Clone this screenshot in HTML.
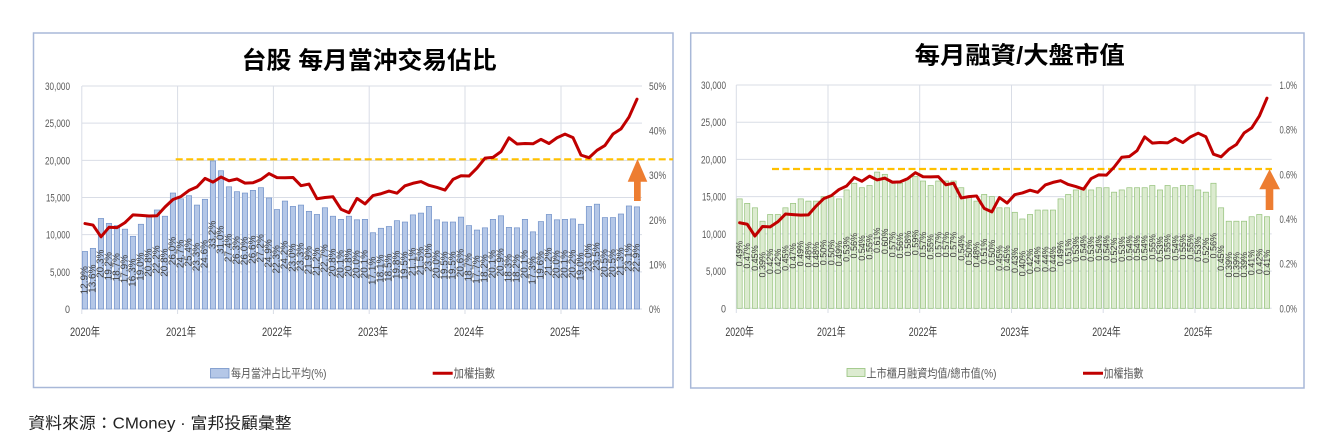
<!DOCTYPE html>
<html><head><meta charset="utf-8">
<style>
html,body{margin:0;padding:0;background:#fff;}
svg{display:block;}
text{font-family:"Liberation Sans","Noto Sans CJK TC",sans-serif;}
.lb text{font-size:10px;fill:#404040;text-anchor:middle;dominant-baseline:central;}
.rb text{font-size:9px;fill:#404040;text-anchor:middle;dominant-baseline:central;}
.ax{font-size:11px;fill:#595959;}
.xl{font-size:12px;fill:#404040;text-anchor:middle;}
.lg{font-size:12px;fill:#595959;}
</style></head>
<body>
<svg width="1337" height="438" viewBox="0 0 1337 438" xmlns="http://www.w3.org/2000/svg">
<rect x="0" y="0" width="1337" height="438" fill="#fff"/>
<!-- panels -->
<rect x="33.5" y="33" width="639.5" height="354.5" fill="#fff" stroke="#a8b8d8" stroke-width="1.5"/>
<rect x="690.7" y="33" width="613.3" height="355" fill="#fff" stroke="#a8b8d8" stroke-width="1.5"/>

<!-- titles -->
<text x="241.7" y="68.3" font-size="24" font-weight="bold" fill="#000" textLength="255" lengthAdjust="spacingAndGlyphs">台股 每月當沖交易佔比</text>
<text x="914.7" y="63.6" font-size="24" font-weight="bold" fill="#000" textLength="210" lengthAdjust="spacingAndGlyphs">每月融資/大盤市值</text>

<!-- LEFT grid -->
<g stroke="#d9dde6" stroke-width="1">
<line x1="82" y1="86" x2="642" y2="86"/>
<line x1="82" y1="123.17" x2="642" y2="123.17"/>
<line x1="82" y1="160.33" x2="642" y2="160.33"/>
<line x1="82" y1="197.5" x2="642" y2="197.5"/>
<line x1="82" y1="234.67" x2="642" y2="234.67"/>
<line x1="82" y1="271.83" x2="642" y2="271.83"/>
<line x1="82" y1="309" x2="642" y2="309"/>
<line x1="81.8" y1="86" x2="81.8" y2="314"/>
<line x1="177.6" y1="86" x2="177.6" y2="314"/>
<line x1="273.4" y1="86" x2="273.4" y2="314"/>
<line x1="369.2" y1="86" x2="369.2" y2="314"/>
<line x1="465" y1="86" x2="465" y2="314"/>
<line x1="561" y1="86" x2="561" y2="314"/>
</g>
<!-- LEFT axis labels -->
<g class="ax" text-anchor="end">
<text x="70" y="90" textLength="25" lengthAdjust="spacingAndGlyphs">30,000</text>
<text x="70" y="127.17" textLength="25" lengthAdjust="spacingAndGlyphs">25,000</text>
<text x="70" y="164.33" textLength="25" lengthAdjust="spacingAndGlyphs">20,000</text>
<text x="70" y="201.5" textLength="24" lengthAdjust="spacingAndGlyphs">15,000</text>
<text x="70" y="238.67" textLength="24" lengthAdjust="spacingAndGlyphs">10,000</text>
<text x="70" y="275.83" textLength="20" lengthAdjust="spacingAndGlyphs">5,000</text>
<text x="70" y="313" textLength="5" lengthAdjust="spacingAndGlyphs">0</text>
</g>
<g class="ax">
<text x="649" y="90" textLength="17" lengthAdjust="spacingAndGlyphs">50%</text>
<text x="649" y="134.6" textLength="17" lengthAdjust="spacingAndGlyphs">40%</text>
<text x="649" y="179.2" textLength="17" lengthAdjust="spacingAndGlyphs">30%</text>
<text x="649" y="223.8" textLength="17" lengthAdjust="spacingAndGlyphs">20%</text>
<text x="649" y="268.4" textLength="17" lengthAdjust="spacingAndGlyphs">10%</text>
<text x="649" y="313" textLength="11" lengthAdjust="spacingAndGlyphs">0%</text>
</g>
<g class="xl">
<text x="85" y="336" textLength="30" lengthAdjust="spacingAndGlyphs">2020年</text>
<text x="181" y="336" textLength="30" lengthAdjust="spacingAndGlyphs">2021年</text>
<text x="277" y="336" textLength="30" lengthAdjust="spacingAndGlyphs">2022年</text>
<text x="373" y="336" textLength="30" lengthAdjust="spacingAndGlyphs">2023年</text>
<text x="469" y="336" textLength="30" lengthAdjust="spacingAndGlyphs">2024年</text>
<text x="565" y="336" textLength="30" lengthAdjust="spacingAndGlyphs">2025年</text>
</g>

<!-- LEFT bars -->
<g fill="#b4c7e7" stroke="#7393c9" stroke-width="0.7">
<rect x="82.3" y="251.47" width="5.3" height="57.53"/>
<rect x="90.3" y="248.34" width="5.3" height="60.66"/>
<rect x="98.3" y="218.46" width="5.3" height="90.54"/>
<rect x="106.3" y="223.37" width="5.3" height="85.63"/>
<rect x="114.3" y="225.6" width="5.3" height="83.4"/>
<rect x="122.3" y="229.17" width="5.3" height="79.83"/>
<rect x="130.3" y="236.3" width="5.3" height="72.7"/>
<rect x="138.3" y="224.26" width="5.3" height="84.74"/>
<rect x="146.3" y="216.23" width="5.3" height="92.77"/>
<rect x="154.3" y="209.99" width="5.3" height="99.01"/>
<rect x="162.3" y="216.23" width="5.3" height="92.77"/>
<rect x="170.3" y="193.04" width="5.3" height="115.96"/>
<rect x="178.3" y="198.84" width="5.3" height="110.16"/>
<rect x="186.3" y="195.72" width="5.3" height="113.28"/>
<rect x="194.3" y="205.08" width="5.3" height="103.92"/>
<rect x="202.3" y="199.28" width="5.3" height="109.72"/>
<rect x="210.3" y="160.93" width="5.3" height="148.07"/>
<rect x="218.3" y="170.74" width="5.3" height="138.26"/>
<rect x="226.3" y="186.8" width="5.3" height="122.2"/>
<rect x="234.3" y="191.7" width="5.3" height="117.3"/>
<rect x="242.3" y="193.04" width="5.3" height="115.96"/>
<rect x="250.3" y="190.36" width="5.3" height="118.64"/>
<rect x="258.3" y="187.69" width="5.3" height="121.31"/>
<rect x="266.3" y="197.95" width="5.3" height="111.05"/>
<rect x="274.3" y="209.54" width="5.3" height="99.46"/>
<rect x="282.3" y="201.07" width="5.3" height="107.93"/>
<rect x="290.3" y="206.42" width="5.3" height="102.58"/>
<rect x="298.3" y="205.08" width="5.3" height="103.92"/>
<rect x="306.3" y="211.33" width="5.3" height="97.67"/>
<rect x="314.3" y="214.45" width="5.3" height="94.55"/>
<rect x="322.3" y="207.76" width="5.3" height="101.24"/>
<rect x="330.3" y="216.23" width="5.3" height="92.77"/>
<rect x="338.3" y="219.35" width="5.3" height="89.65"/>
<rect x="346.3" y="216.23" width="5.3" height="92.77"/>
<rect x="354.3" y="219.8" width="5.3" height="89.2"/>
<rect x="362.3" y="219.35" width="5.3" height="89.65"/>
<rect x="370.3" y="232.73" width="5.3" height="76.27"/>
<rect x="378.3" y="228.27" width="5.3" height="80.73"/>
<rect x="386.3" y="226.49" width="5.3" height="82.51"/>
<rect x="394.3" y="220.69" width="5.3" height="88.31"/>
<rect x="402.3" y="222.03" width="5.3" height="86.97"/>
<rect x="410.3" y="214.89" width="5.3" height="94.11"/>
<rect x="418.3" y="213.11" width="5.3" height="95.89"/>
<rect x="426.3" y="206.42" width="5.3" height="102.58"/>
<rect x="434.3" y="219.8" width="5.3" height="89.2"/>
<rect x="442.3" y="222.03" width="5.3" height="86.97"/>
<rect x="450.3" y="222.03" width="5.3" height="86.97"/>
<rect x="458.3" y="217.12" width="5.3" height="91.88"/>
<rect x="466.3" y="225.6" width="5.3" height="83.4"/>
<rect x="474.3" y="230.06" width="5.3" height="78.94"/>
<rect x="482.3" y="227.83" width="5.3" height="81.17"/>
<rect x="490.3" y="219.35" width="5.3" height="89.65"/>
<rect x="498.3" y="215.79" width="5.3" height="93.21"/>
<rect x="506.3" y="227.38" width="5.3" height="81.62"/>
<rect x="514.3" y="227.83" width="5.3" height="81.17"/>
<rect x="522.3" y="219.35" width="5.3" height="89.65"/>
<rect x="530.3" y="231.84" width="5.3" height="77.16"/>
<rect x="538.3" y="221.58" width="5.3" height="87.42"/>
<rect x="546.3" y="214.45" width="5.3" height="94.55"/>
<rect x="554.3" y="219.8" width="5.3" height="89.2"/>
<rect x="562.3" y="219.35" width="5.3" height="89.65"/>
<rect x="570.3" y="218.91" width="5.3" height="90.09"/>
<rect x="578.3" y="224.26" width="5.3" height="84.74"/>
<rect x="586.3" y="206.42" width="5.3" height="102.58"/>
<rect x="594.3" y="204.19" width="5.3" height="104.81"/>
<rect x="602.3" y="217.57" width="5.3" height="91.43"/>
<rect x="610.3" y="217.57" width="5.3" height="91.43"/>
<rect x="618.3" y="214" width="5.3" height="95"/>
<rect x="626.3" y="205.97" width="5.3" height="103.03"/>
<rect x="634.3" y="206.87" width="5.3" height="102.13"/>
</g>
<!-- LEFT bar labels -->
<g class="lb">
<text transform="translate(85 280.23) rotate(-90)">12.9%</text>
<text transform="translate(93 278.67) rotate(-90)">13.6%</text>
<text transform="translate(101 263.73) rotate(-90)">20.3%</text>
<text transform="translate(109 266.18) rotate(-90)">19.2%</text>
<text transform="translate(117 267.3) rotate(-90)">18.7%</text>
<text transform="translate(125 269.08) rotate(-90)">17.9%</text>
<text transform="translate(133 272.65) rotate(-90)">16.3%</text>
<text transform="translate(141 266.63) rotate(-90)">19.0%</text>
<text transform="translate(149 262.62) rotate(-90)">20.8%</text>
<text transform="translate(157 259.49) rotate(-90)">22.2%</text>
<text transform="translate(165 262.62) rotate(-90)">20.8%</text>
<text transform="translate(173 251.02) rotate(-90)">26.0%</text>
<text transform="translate(181 253.92) rotate(-90)">24.7%</text>
<text transform="translate(189 252.36) rotate(-90)">25.4%</text>
<text transform="translate(197 257.04) rotate(-90)">23.3%</text>
<text transform="translate(205 254.14) rotate(-90)">24.6%</text>
<text transform="translate(213 234.96) rotate(-90)">33.2%</text>
<text transform="translate(221 239.87) rotate(-90)">31.0%</text>
<text transform="translate(229 247.9) rotate(-90)">27.4%</text>
<text transform="translate(237 250.35) rotate(-90)">26.3%</text>
<text transform="translate(245 251.02) rotate(-90)">26.0%</text>
<text transform="translate(253 249.68) rotate(-90)">26.6%</text>
<text transform="translate(261 248.34) rotate(-90)">27.2%</text>
<text transform="translate(269 253.47) rotate(-90)">24.9%</text>
<text transform="translate(277 259.27) rotate(-90)">22.3%</text>
<text transform="translate(285 255.03) rotate(-90)">24.2%</text>
<text transform="translate(293 257.71) rotate(-90)">23.0%</text>
<text transform="translate(301 257.04) rotate(-90)">23.3%</text>
<text transform="translate(309 260.16) rotate(-90)">21.9%</text>
<text transform="translate(317 261.72) rotate(-90)">21.2%</text>
<text transform="translate(325 258.38) rotate(-90)">22.7%</text>
<text transform="translate(333 262.62) rotate(-90)">20.8%</text>
<text transform="translate(341 264.18) rotate(-90)">20.1%</text>
<text transform="translate(349 262.62) rotate(-90)">20.8%</text>
<text transform="translate(357 264.4) rotate(-90)">20.0%</text>
<text transform="translate(365 264.18) rotate(-90)">20.1%</text>
<text transform="translate(373 270.87) rotate(-90)">17.1%</text>
<text transform="translate(381 268.64) rotate(-90)">18.1%</text>
<text transform="translate(389 267.75) rotate(-90)">18.5%</text>
<text transform="translate(397 264.85) rotate(-90)">19.8%</text>
<text transform="translate(405 265.52) rotate(-90)">19.5%</text>
<text transform="translate(413 261.95) rotate(-90)">21.1%</text>
<text transform="translate(421 261.06) rotate(-90)">21.5%</text>
<text transform="translate(429 257.71) rotate(-90)">23.0%</text>
<text transform="translate(437 264.4) rotate(-90)">20.0%</text>
<text transform="translate(445 265.52) rotate(-90)">19.5%</text>
<text transform="translate(453 265.52) rotate(-90)">19.5%</text>
<text transform="translate(461 263.06) rotate(-90)">20.6%</text>
<text transform="translate(469 267.3) rotate(-90)">18.7%</text>
<text transform="translate(477 269.53) rotate(-90)">17.7%</text>
<text transform="translate(485 268.41) rotate(-90)">18.2%</text>
<text transform="translate(493 264.18) rotate(-90)">20.1%</text>
<text transform="translate(501 262.39) rotate(-90)">20.9%</text>
<text transform="translate(509 268.19) rotate(-90)">18.3%</text>
<text transform="translate(517 268.41) rotate(-90)">18.2%</text>
<text transform="translate(525 264.18) rotate(-90)">20.1%</text>
<text transform="translate(533 270.42) rotate(-90)">17.3%</text>
<text transform="translate(541 265.29) rotate(-90)">19.6%</text>
<text transform="translate(549 261.72) rotate(-90)">21.2%</text>
<text transform="translate(557 264.4) rotate(-90)">20.0%</text>
<text transform="translate(565 264.18) rotate(-90)">20.1%</text>
<text transform="translate(573 263.95) rotate(-90)">20.2%</text>
<text transform="translate(581 266.63) rotate(-90)">19.0%</text>
<text transform="translate(589 257.71) rotate(-90)">23.0%</text>
<text transform="translate(597 256.6) rotate(-90)">23.5%</text>
<text transform="translate(605 263.28) rotate(-90)">20.5%</text>
<text transform="translate(613 263.28) rotate(-90)">20.5%</text>
<text transform="translate(621 261.5) rotate(-90)">21.3%</text>
<text transform="translate(629 257.49) rotate(-90)">23.1%</text>
<text transform="translate(637 257.93) rotate(-90)">22.9%</text>
</g>
<!-- LEFT dashed line -->
<line x1="175.7" y1="159.3" x2="673" y2="159.3" stroke="#ffc000" stroke-width="2.2" stroke-dasharray="7 3.5"/>
<!-- LEFT index line -->
<polyline fill="none" stroke="#c00000" stroke-width="3" stroke-linejoin="round" stroke-linecap="round" points="85,223.55 93,225.06 101,236.84 109,227.29 117,227.66 125,222.62 133,214.86 141,215.4 149,215.96 157,215.74 165,207 173,199.49 181,196.48 189,190.42 197,186.86 205,178.42 213,182.13 221,177.02 229,180.8 237,178.99 245,183.12 253,182.73 261,179.45 269,173.57 277,177.62 285,177.79 293,177.48 301,185.67 309,184.07 317,198.79 325,197.5 333,196.79 341,209.21 349,212.74 357,198.39 365,203.91 373,195.53 381,193.75 389,191.05 397,193.2 405,185.76 413,183.26 421,181.55 429,185.35 437,187.44 445,190.06 453,179.42 461,175.71 469,176.02 477,168.02 485,158.15 493,157.38 501,151.6 509,137.79 517,143.99 525,143.47 533,143.79 541,139.37 549,143.51 557,137.77 565,134.12 573,137.64 581,155.13 589,157.73 597,150.31 605,145.42 613,133.97 621,128.87 629,117.06 637,99.14"/>
<!-- LEFT arrow -->
<polygon fill="#ed7d31" points="637.5,159 647.3,181.7 640.7,181.7 640.7,201 634,201 634,181.7 627.7,181.7"/>
<!-- LEFT legend -->
<rect x="210.5" y="368.5" width="18.5" height="9.5" fill="#b4c7e7" stroke="#7393c9" stroke-width="0.8"/>
<text class="lg" x="231" y="377.5" textLength="95.5" lengthAdjust="spacingAndGlyphs">每月當沖占比平均(%)</text>
<line x1="432.7" y1="373.3" x2="452.7" y2="373.3" stroke="#c00000" stroke-width="3"/>
<text class="lg" x="453.5" y="377.5" textLength="41.5" lengthAdjust="spacingAndGlyphs">加權指數</text>

<!-- RIGHT grid -->
<g stroke="#d9dde6" stroke-width="1">
<line x1="736.3" y1="85" x2="1271.7" y2="85"/>
<line x1="736.3" y1="122.22" x2="1271.7" y2="122.22"/>
<line x1="736.3" y1="159.43" x2="1271.7" y2="159.43"/>
<line x1="736.3" y1="196.65" x2="1271.7" y2="196.65"/>
<line x1="736.3" y1="233.87" x2="1271.7" y2="233.87"/>
<line x1="736.3" y1="271.08" x2="1271.7" y2="271.08"/>
<line x1="736.3" y1="308.3" x2="1271.7" y2="308.3"/>
<line x1="736.3" y1="85" x2="736.3" y2="313"/>
<line x1="828" y1="85" x2="828" y2="313"/>
<line x1="919.7" y1="85" x2="919.7" y2="313"/>
<line x1="1011.5" y1="85" x2="1011.5" y2="313"/>
<line x1="1103.2" y1="85" x2="1103.2" y2="313"/>
<line x1="1195" y1="85" x2="1195" y2="313"/>
</g>
<g class="ax" text-anchor="end">
<text x="726" y="89" textLength="25" lengthAdjust="spacingAndGlyphs">30,000</text>
<text x="726" y="126.22" textLength="25" lengthAdjust="spacingAndGlyphs">25,000</text>
<text x="726" y="163.43" textLength="25" lengthAdjust="spacingAndGlyphs">20,000</text>
<text x="726" y="200.65" textLength="24" lengthAdjust="spacingAndGlyphs">15,000</text>
<text x="726" y="237.87" textLength="24" lengthAdjust="spacingAndGlyphs">10,000</text>
<text x="726" y="275.08" textLength="20" lengthAdjust="spacingAndGlyphs">5,000</text>
<text x="726" y="312.3" textLength="5" lengthAdjust="spacingAndGlyphs">0</text>
</g>
<g class="ax">
<text x="1279.5" y="89" textLength="17.5" lengthAdjust="spacingAndGlyphs">1.0%</text>
<text x="1279.5" y="133.66" textLength="17.5" lengthAdjust="spacingAndGlyphs">0.8%</text>
<text x="1279.5" y="178.32" textLength="17.5" lengthAdjust="spacingAndGlyphs">0.6%</text>
<text x="1279.5" y="222.98" textLength="17.5" lengthAdjust="spacingAndGlyphs">0.4%</text>
<text x="1279.5" y="267.64" textLength="17.5" lengthAdjust="spacingAndGlyphs">0.2%</text>
<text x="1279.5" y="312.3" textLength="17.5" lengthAdjust="spacingAndGlyphs">0.0%</text>
</g>
<g class="xl">
<text x="739.6" y="336" textLength="28.5" lengthAdjust="spacingAndGlyphs">2020年</text>
<text x="831.3" y="336" textLength="28.5" lengthAdjust="spacingAndGlyphs">2021年</text>
<text x="923" y="336" textLength="28.5" lengthAdjust="spacingAndGlyphs">2022年</text>
<text x="1014.8" y="336" textLength="28.5" lengthAdjust="spacingAndGlyphs">2023年</text>
<text x="1106.5" y="336" textLength="28.5" lengthAdjust="spacingAndGlyphs">2024年</text>
<text x="1198.2" y="336" textLength="28.5" lengthAdjust="spacingAndGlyphs">2025年</text>
</g>

<!-- RIGHT bars -->
<g fill="#dcebd0" stroke="#94c27a" stroke-width="0.7">
<rect x="737" y="198.88" width="5.2" height="109.42"/>
<rect x="744.64" y="203.35" width="5.2" height="104.95"/>
<rect x="752.29" y="207.81" width="5.2" height="100.49"/>
<rect x="759.93" y="221.21" width="5.2" height="87.09"/>
<rect x="767.57" y="214.51" width="5.2" height="93.79"/>
<rect x="775.22" y="214.51" width="5.2" height="93.79"/>
<rect x="782.86" y="207.81" width="5.2" height="100.49"/>
<rect x="790.5" y="203.35" width="5.2" height="104.95"/>
<rect x="798.14" y="198.88" width="5.2" height="109.42"/>
<rect x="805.79" y="201.12" width="5.2" height="107.18"/>
<rect x="813.43" y="201.12" width="5.2" height="107.18"/>
<rect x="821.07" y="196.65" width="5.2" height="111.65"/>
<rect x="828.72" y="196.65" width="5.2" height="111.65"/>
<rect x="836.36" y="198.88" width="5.2" height="109.42"/>
<rect x="844" y="189.95" width="5.2" height="118.35"/>
<rect x="851.64" y="183.25" width="5.2" height="125.05"/>
<rect x="859.29" y="187.72" width="5.2" height="120.58"/>
<rect x="866.93" y="185.48" width="5.2" height="122.82"/>
<rect x="874.57" y="172.09" width="5.2" height="136.21"/>
<rect x="882.22" y="174.32" width="5.2" height="133.98"/>
<rect x="889.86" y="181.02" width="5.2" height="127.28"/>
<rect x="897.5" y="183.25" width="5.2" height="125.05"/>
<rect x="905.15" y="178.79" width="5.2" height="129.51"/>
<rect x="912.79" y="176.55" width="5.2" height="131.75"/>
<rect x="920.43" y="181.02" width="5.2" height="127.28"/>
<rect x="928.08" y="185.48" width="5.2" height="122.82"/>
<rect x="935.72" y="181.02" width="5.2" height="127.28"/>
<rect x="943.36" y="181.02" width="5.2" height="127.28"/>
<rect x="951" y="181.02" width="5.2" height="127.28"/>
<rect x="958.65" y="187.72" width="5.2" height="120.58"/>
<rect x="966.29" y="196.65" width="5.2" height="111.65"/>
<rect x="973.93" y="201.12" width="5.2" height="107.18"/>
<rect x="981.58" y="194.42" width="5.2" height="113.88"/>
<rect x="989.22" y="196.65" width="5.2" height="111.65"/>
<rect x="996.86" y="207.81" width="5.2" height="100.49"/>
<rect x="1004.51" y="207.81" width="5.2" height="100.49"/>
<rect x="1012.15" y="212.28" width="5.2" height="96.02"/>
<rect x="1019.79" y="218.98" width="5.2" height="89.32"/>
<rect x="1027.43" y="214.51" width="5.2" height="93.79"/>
<rect x="1035.08" y="210.05" width="5.2" height="98.25"/>
<rect x="1042.72" y="210.05" width="5.2" height="98.25"/>
<rect x="1050.36" y="210.05" width="5.2" height="98.25"/>
<rect x="1058.01" y="198.88" width="5.2" height="109.42"/>
<rect x="1065.65" y="194.42" width="5.2" height="113.88"/>
<rect x="1073.29" y="189.95" width="5.2" height="118.35"/>
<rect x="1080.94" y="187.72" width="5.2" height="120.58"/>
<rect x="1088.58" y="189.95" width="5.2" height="118.35"/>
<rect x="1096.22" y="187.72" width="5.2" height="120.58"/>
<rect x="1103.86" y="187.72" width="5.2" height="120.58"/>
<rect x="1111.51" y="192.18" width="5.2" height="116.12"/>
<rect x="1119.15" y="189.95" width="5.2" height="118.35"/>
<rect x="1126.79" y="187.72" width="5.2" height="120.58"/>
<rect x="1134.44" y="187.72" width="5.2" height="120.58"/>
<rect x="1142.08" y="187.72" width="5.2" height="120.58"/>
<rect x="1149.72" y="185.48" width="5.2" height="122.82"/>
<rect x="1157.37" y="189.95" width="5.2" height="118.35"/>
<rect x="1165.01" y="185.48" width="5.2" height="122.82"/>
<rect x="1172.65" y="187.72" width="5.2" height="120.58"/>
<rect x="1180.29" y="185.48" width="5.2" height="122.82"/>
<rect x="1187.94" y="185.48" width="5.2" height="122.82"/>
<rect x="1195.58" y="189.95" width="5.2" height="118.35"/>
<rect x="1203.22" y="192.18" width="5.2" height="116.12"/>
<rect x="1210.87" y="183.25" width="5.2" height="125.05"/>
<rect x="1218.51" y="207.81" width="5.2" height="100.49"/>
<rect x="1226.15" y="221.21" width="5.2" height="87.09"/>
<rect x="1233.8" y="221.21" width="5.2" height="87.09"/>
<rect x="1241.44" y="221.21" width="5.2" height="87.09"/>
<rect x="1249.08" y="216.75" width="5.2" height="91.55"/>
<rect x="1256.72" y="214.51" width="5.2" height="93.79"/>
<rect x="1264.37" y="216.75" width="5.2" height="91.55"/>
</g>
<!-- RIGHT bar labels -->
<g class="rb">
<text transform="translate(739.6 253.59) rotate(-90)">0.49%</text>
<text transform="translate(747.24 255.83) rotate(-90)">0.47%</text>
<text transform="translate(754.89 258.06) rotate(-90)">0.45%</text>
<text transform="translate(762.53 264.76) rotate(-90)">0.39%</text>
<text transform="translate(770.17 261.41) rotate(-90)">0.42%</text>
<text transform="translate(777.82 261.41) rotate(-90)">0.42%</text>
<text transform="translate(785.46 258.06) rotate(-90)">0.45%</text>
<text transform="translate(793.1 255.83) rotate(-90)">0.47%</text>
<text transform="translate(800.74 253.59) rotate(-90)">0.49%</text>
<text transform="translate(808.39 254.71) rotate(-90)">0.48%</text>
<text transform="translate(816.03 254.71) rotate(-90)">0.48%</text>
<text transform="translate(823.67 252.48) rotate(-90)">0.50%</text>
<text transform="translate(831.32 252.48) rotate(-90)">0.50%</text>
<text transform="translate(838.96 253.59) rotate(-90)">0.49%</text>
<text transform="translate(846.6 249.13) rotate(-90)">0.53%</text>
<text transform="translate(854.24 245.78) rotate(-90)">0.56%</text>
<text transform="translate(861.89 248.01) rotate(-90)">0.54%</text>
<text transform="translate(869.53 246.89) rotate(-90)">0.55%</text>
<text transform="translate(877.17 240.2) rotate(-90)">0.61%</text>
<text transform="translate(884.82 241.31) rotate(-90)">0.60%</text>
<text transform="translate(892.46 244.66) rotate(-90)">0.57%</text>
<text transform="translate(900.1 245.78) rotate(-90)">0.56%</text>
<text transform="translate(907.75 243.55) rotate(-90)">0.58%</text>
<text transform="translate(915.39 242.43) rotate(-90)">0.59%</text>
<text transform="translate(923.03 244.66) rotate(-90)">0.57%</text>
<text transform="translate(930.68 246.89) rotate(-90)">0.55%</text>
<text transform="translate(938.32 244.66) rotate(-90)">0.57%</text>
<text transform="translate(945.96 244.66) rotate(-90)">0.57%</text>
<text transform="translate(953.6 244.66) rotate(-90)">0.57%</text>
<text transform="translate(961.25 248.01) rotate(-90)">0.54%</text>
<text transform="translate(968.89 252.48) rotate(-90)">0.50%</text>
<text transform="translate(976.53 254.71) rotate(-90)">0.48%</text>
<text transform="translate(984.18 251.36) rotate(-90)">0.51%</text>
<text transform="translate(991.82 252.48) rotate(-90)">0.50%</text>
<text transform="translate(999.46 258.06) rotate(-90)">0.45%</text>
<text transform="translate(1007.11 258.06) rotate(-90)">0.45%</text>
<text transform="translate(1014.75 260.29) rotate(-90)">0.43%</text>
<text transform="translate(1022.39 263.64) rotate(-90)">0.40%</text>
<text transform="translate(1030.03 261.41) rotate(-90)">0.42%</text>
<text transform="translate(1037.68 259.18) rotate(-90)">0.44%</text>
<text transform="translate(1045.32 259.18) rotate(-90)">0.44%</text>
<text transform="translate(1052.96 259.18) rotate(-90)">0.44%</text>
<text transform="translate(1060.61 253.59) rotate(-90)">0.49%</text>
<text transform="translate(1068.25 251.36) rotate(-90)">0.51%</text>
<text transform="translate(1075.89 249.13) rotate(-90)">0.53%</text>
<text transform="translate(1083.54 248.01) rotate(-90)">0.54%</text>
<text transform="translate(1091.18 249.13) rotate(-90)">0.53%</text>
<text transform="translate(1098.82 248.01) rotate(-90)">0.54%</text>
<text transform="translate(1106.46 248.01) rotate(-90)">0.54%</text>
<text transform="translate(1114.11 250.24) rotate(-90)">0.52%</text>
<text transform="translate(1121.75 249.13) rotate(-90)">0.53%</text>
<text transform="translate(1129.39 248.01) rotate(-90)">0.54%</text>
<text transform="translate(1137.04 248.01) rotate(-90)">0.54%</text>
<text transform="translate(1144.68 248.01) rotate(-90)">0.54%</text>
<text transform="translate(1152.32 246.89) rotate(-90)">0.55%</text>
<text transform="translate(1159.97 249.13) rotate(-90)">0.53%</text>
<text transform="translate(1167.61 246.89) rotate(-90)">0.55%</text>
<text transform="translate(1175.25 248.01) rotate(-90)">0.54%</text>
<text transform="translate(1182.89 246.89) rotate(-90)">0.55%</text>
<text transform="translate(1190.54 246.89) rotate(-90)">0.55%</text>
<text transform="translate(1198.18 249.13) rotate(-90)">0.53%</text>
<text transform="translate(1205.82 250.24) rotate(-90)">0.52%</text>
<text transform="translate(1213.47 245.78) rotate(-90)">0.56%</text>
<text transform="translate(1221.11 258.06) rotate(-90)">0.45%</text>
<text transform="translate(1228.75 264.76) rotate(-90)">0.39%</text>
<text transform="translate(1236.4 264.76) rotate(-90)">0.39%</text>
<text transform="translate(1244.04 264.76) rotate(-90)">0.39%</text>
<text transform="translate(1251.68 262.53) rotate(-90)">0.41%</text>
<text transform="translate(1259.32 261.41) rotate(-90)">0.42%</text>
<text transform="translate(1266.97 262.53) rotate(-90)">0.41%</text>
</g>
<!-- RIGHT dashed line -->
<line x1="772" y1="169" x2="1272" y2="169" stroke="#ffc000" stroke-width="2.2" stroke-dasharray="7 3.5"/>
<!-- RIGHT index line -->
<polyline fill="none" stroke="#c00000" stroke-width="3" stroke-linejoin="round" stroke-linecap="round" points="739.6,222.74 747.24,224.25 754.89,236.04 762.53,226.48 770.17,226.86 777.82,221.8 785.46,214.03 793.1,214.57 800.74,215.14 808.39,214.92 816.03,206.16 823.67,198.65 831.32,195.62 838.96,189.56 846.6,186 854.24,177.54 861.89,181.26 869.53,176.14 877.17,179.93 884.82,178.12 892.46,182.25 900.1,181.86 907.75,178.58 915.39,172.69 923.03,176.75 930.68,176.91 938.32,176.61 945.96,184.8 953.6,183.2 961.25,197.95 968.89,196.65 976.53,195.94 984.18,208.37 991.82,211.91 999.46,197.54 1007.11,203.07 1014.75,194.68 1022.39,192.9 1030.03,190.19 1037.68,192.34 1045.32,184.9 1052.96,182.39 1060.61,180.68 1068.25,184.48 1075.89,186.58 1083.54,189.2 1091.18,178.54 1098.82,174.83 1106.46,175.14 1114.11,167.13 1121.75,157.25 1129.39,156.48 1137.04,150.69 1144.68,136.86 1152.32,143.07 1159.97,142.55 1167.61,142.87 1175.25,138.44 1182.89,142.59 1190.54,136.84 1198.18,133.19 1205.82,136.71 1213.47,154.22 1221.11,156.83 1228.75,149.4 1236.4,144.5 1244.04,133.04 1251.68,127.93 1259.32,116.1 1266.97,98.15"/>
<!-- RIGHT arrow -->
<polygon fill="#ed7d31" points="1269.6,169.3 1280,189.3 1273.3,189.3 1273.3,210 1265.7,210 1265.7,189.3 1259.3,189.3"/>
<!-- RIGHT legend -->
<rect x="847" y="368.5" width="18" height="8" fill="#dcebd0" stroke="#94c27a" stroke-width="0.8"/>
<text class="lg" x="866.5" y="377.5" textLength="130" lengthAdjust="spacingAndGlyphs">上市櫃月融資均值/總市值(%)</text>
<line x1="1083" y1="373.3" x2="1103" y2="373.3" stroke="#c00000" stroke-width="3"/>
<text class="lg" x="1103.5" y="377.5" textLength="40" lengthAdjust="spacingAndGlyphs">加權指數</text>

<!-- footer -->
<text x="28.3" y="428.5" font-size="16" fill="#222" textLength="263.4" lengthAdjust="spacingAndGlyphs">資料來源：CMoney · 富邦投顧彙整</text>
</svg>
</body></html>
